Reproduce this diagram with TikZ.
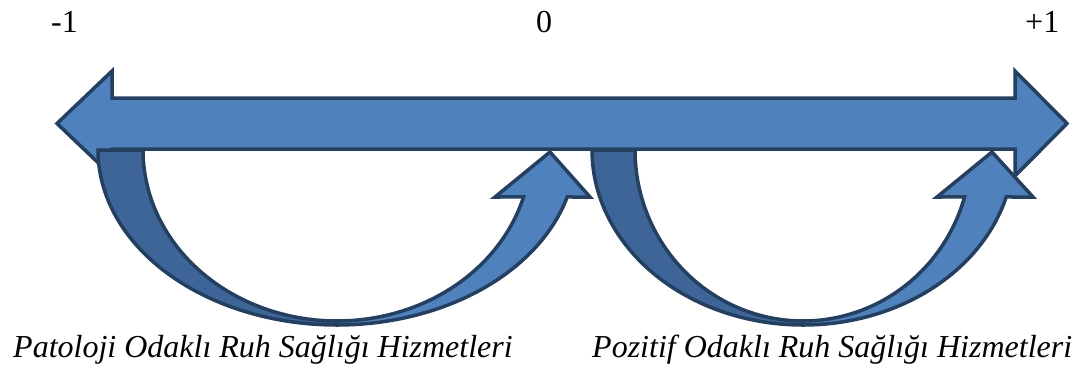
\documentclass[tikz,border=0pt]{standalone}
\usepackage{fontspec}
\setmainfont{Liberation Serif}
\definecolor{arrowblue}{HTML}{4F81BD}
\definecolor{arrowdark}{HTML}{3D6597}
\definecolor{arrowline}{HTML}{243F60}
% #1 centre x, #2 outer x radius, #3 inner x radius, #4 left head corner x, #5 tip x, #6 right head corner x
\newcommand\uturnarrow[6]{%
  \draw[darkfill] ({#1-#2},150) -- plot[domain=180:90,samples=60] ({#1+#2*cos(\x)},{150+175*sin(\x)})
     -- plot[domain=90:180,samples=60] ({#1+#3*cos(\x)},{150+171*sin(\x)}) -- cycle;
  \draw[lightfill] plot[domain=15.95:90,samples=60] ({#1+#3*cos(\x)},{150+171*sin(\x)})
     -- plot[domain=90:15.58,samples=60] ({#1+#2*cos(\x)},{150+175*sin(\x)})
     -- (#6,197) -- (#5,152) -- (#4,197) -- cycle;
}
\begin{document}
\begin{tikzpicture}[x=1pt,y=-1pt,
  shapeline/.style={draw=arrowline,line width=3.5pt,line join=miter},
  lightfill/.style={shapeline,fill=arrowblue},
  darkfill/.style={shapeline,fill=arrowdark},
  lbl/.style={font=\fontsize{32}{38}\selectfont,inner sep=0pt},
  captext/.style={lbl,font=\fontsize{32}{38}\selectfont\itshape}]
\useasboundingbox (0,0) rectangle (1083,369);
% double-headed axis arrow
\draw[lightfill] (57,123.5) -- (112,71) -- (112,98) -- (1015,98) -- (1015,71) -- (1067,123.5)
  -- (1015,176) -- (1015,149) -- (112,149) -- (112,176) -- cycle;
% curved arrows
\uturnarrow{337}{239}{194}{495}{550}{590}
\uturnarrow{803}{211}{168}{937}{992}{1033}
% labels
\node[lbl,anchor=base west] (minusone) at (51,33) {-1};
\node[lbl,anchor=base] (zero) at (544,33) {0};
\node[lbl,anchor=base west] (plusone) at (1025,33) {+1};
\node[captext,anchor=base west] (patoloji) at (13,357) {Patoloji Odaklı Ruh Sağlığı Hizmetleri};
\node[captext,anchor=base west] (pozitif) at (592,357) {Pozitif Odaklı Ruh Sağlığı Hizmetleri};
\end{tikzpicture}
\end{document}
